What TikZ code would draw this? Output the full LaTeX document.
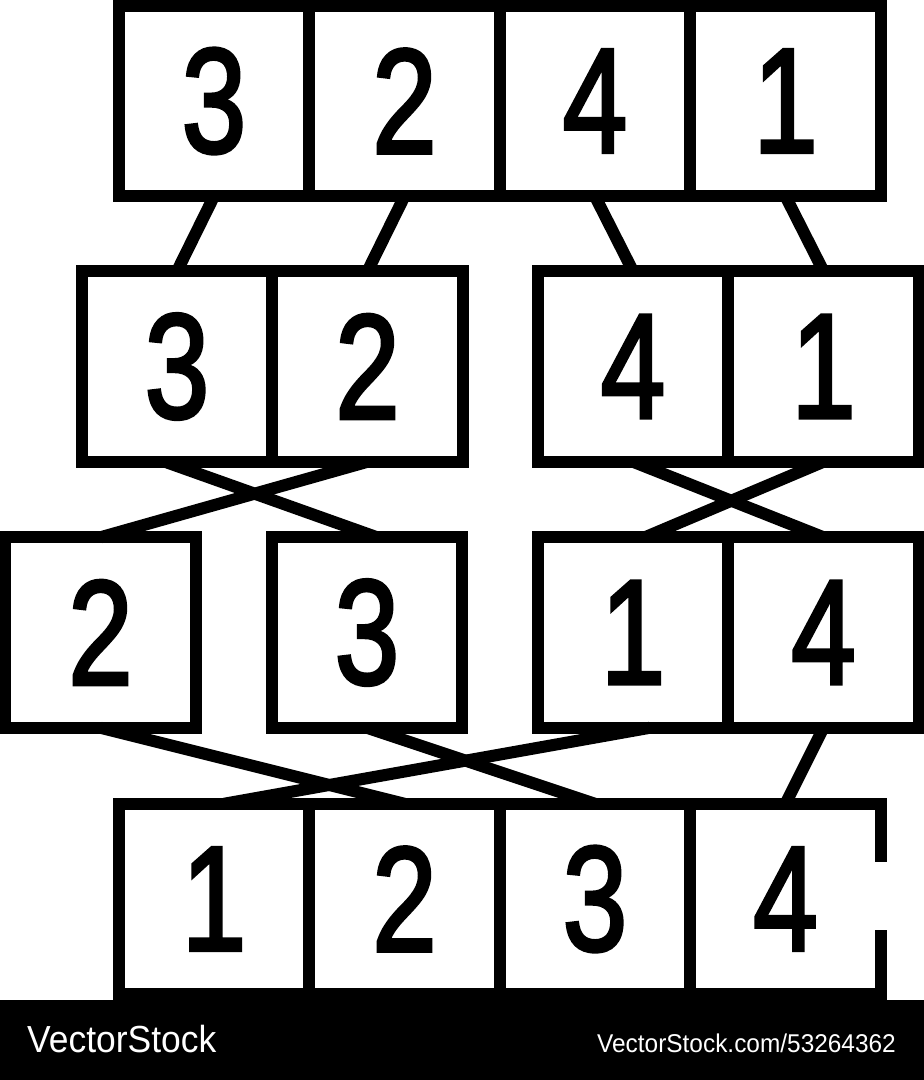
\documentclass[tikz,border=0pt]{standalone}
\usepackage{fontspec}
\usepackage{graphicx}
\setmainfont{Liberation Sans}
\newfontfamily\policechiffre{Liberation Sans}[FakeBold=2.5]
\newcommand{\chiffre}[1]{\scalebox{0.78}[1]{#1}}
\tikzset{
  case/.style={draw, line width=12pt, minimum size=190.5pt, inner sep=0pt, outer sep=0pt,
    font=\policechiffre\fontsize{149}{149}\selectfont},
  lien/.style={line width=12pt}
}
\begin{document}
\begin{tikzpicture}[x=1pt,y=-1pt]
            \useasboundingbox (0,0) rectangle (924,1080);
            \node[case] (r1a) at (214,101) {\chiffre{3}}; %Ligne 1
            \node[case] (r1b) at (404.5,101) {\chiffre{2}};
            \node[case] (r1c) at (595,101) {\chiffre{4}};
            \node[case] (r1d) at (785.5,101) {\chiffre{1}};
            \node[case] (r2a) at (177,366.5) {\chiffre{3}}; %Ligne 2
            \node[case] (r2b) at (367.5,366.5) {\chiffre{2}};
            \node[case] (r2c) at (633,366.5) {\chiffre{4}};
            \node[case] (r2d) at (823.5,366.5) {\chiffre{1}};
            \node[case] (r3a) at (100.5,632.5) {\chiffre{2}}; %Ligne 3
            \node[case] (r3b) at (367,632.5) {\chiffre{3}};
            \node[case] (r3c) at (633,632.5) {\chiffre{1}};
            \node[case] (r3d) at (823.5,632.5) {\chiffre{4}};
            \node[case] (r4a) at (214,899) {\chiffre{1}}; %Ligne 4
            \node[case] (r4b) at (404.5,899) {\chiffre{2}};
            \node[case] (r4c) at (595,899) {\chiffre{3}};
            \node[case,draw=none] (r4d) at (785.5,899) {\chiffre{4}};
            \draw[lien] (r4d.north west) -- (r4d.north east) -- ([yshift=-58pt]r4d.north east); %Bord ouvert
            \draw[lien] ([yshift=64pt]r4d.south east) -- (r4d.south east) -- (r4d.south west);
            \draw[lien] (r1a.south) -- (r2a.north);
            \draw[lien] (r1b.south) -- (r2b.north);
            \draw[lien] (r1c.south) -- (r2c.north);
            \draw[lien] (r1d.south) -- (r2d.north);
            \draw[lien] ([xshift=-12pt]r2a.south) -- ([xshift=10pt]r3b.north); %Croisements
            \draw[lien] (r2b.south) -- (r3a.north);
            \draw[lien] (r2c.south) -- (r3d.north);
            \draw[lien] (r2d.south) -- ([xshift=12pt]r3c.north);
            \draw[lien] (r3a.south) -- (r4b.north);
            \draw[lien] (r3b.south) -- (r4c.north);
            \draw[lien] ([xshift=17pt]r3c.south) -- ([xshift=10pt]r4a.north);
            \draw[lien] (r3d.south) -- (r4d.north);
            \fill (0,1000) rectangle (924,1080); %Bandeau
            \node[white, inner sep=0pt, anchor=base west, font=\fontsize{37.7}{40}\selectfont] (marque) at (27,1052) {\scalebox{0.94}[1]{VectorStock}};
            \node[white, inner sep=0pt, anchor=base east, font=\fontsize{25.7}{28}\selectfont] (adresse) at (896,1052) {\scalebox{0.95}[1]{VectorStock.com/53264362}};
        \end{tikzpicture}
\end{document}
